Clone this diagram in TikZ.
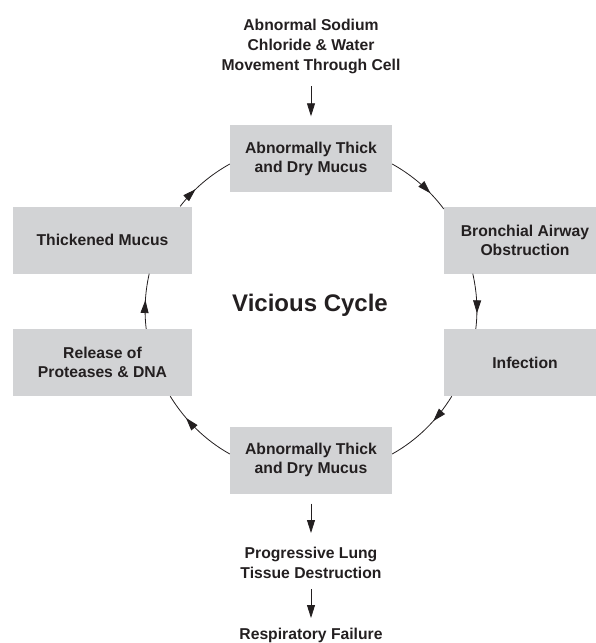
\documentclass[tikz,border=0pt]{standalone}
\usepackage{fontspec}
\setmainfont{Liberation Sans}
\usetikzlibrary{arrows.meta,decorations.markings}
\definecolor{boxgray}{HTML}{D2D3D5}
\definecolor{inkgray}{HTML}{231F20}
\tikzset{
  stage/.style={fill=boxgray, minimum width=162pt, minimum height=67pt,
    inner sep=0pt, align=center, text=inkgray,
    font=\bfseries\fontsize{15.7}{19}\selectfont},
  steptext/.style={inner sep=0pt, align=center, text=inkgray,
    font=\bfseries\fontsize{15.7}{20}\selectfont},
  flow/.style={draw=inkgray, line width=0.8pt,
    -{Triangle[length=13pt,width=8pt]}},
  cycarrow/.style={draw=inkgray, line width=0.8pt, looseness=0.87,
    postaction={decorate},
    decoration={markings,
      mark=at position #1 with {\arrow{Triangle[length=13pt,width=8pt]}}}}
}
\begin{document}
\begin{tikzpicture}[x=1pt,y=1pt]
  \useasboundingbox (0,0) rectangle (596,-643);
% Cause
  \node[steptext, anchor=north] (src) at (311,-19)
    {Abnormal Sodium\\Chloride \& Water\\Movement Through Cell};
% Cycle boxes
  \node[stage] (top) at (311,-158.5) {Abnormally Thick\\and Dry Mucus};
  \node[stage] (bronch) at (525,-240) {Bronchial Airway\\Obstruction};
  \node[stage] (infect) at (525,-362.5) {Infection};
  \node[stage] (bottom) at (311,-460) {Abnormally Thick\\and Dry Mucus};
  \node[stage, minimum width=179pt] (release) at (102.5,-362.5)
    {Release of\\Proteases \& DNA};
  \node[stage, minimum width=179pt] (thick) at (102.5,-240) {Thickened Mucus};
  \node[text=inkgray, inner sep=0pt, font=\bfseries\fontsize{24}{28}\selectfont]
    (vc) at (310,-305) {Vicious Cycle};
% Outcome
  \node[steptext, anchor=north] (prog) at (311,-547)
    {Progressive Lung\\Tissue Destruction};
  \node[steptext, anchor=north] (resp) at (311,-628) {Respiratory Failure};
% Straight arrows
  \draw[flow, shorten <=12pt, shorten >=8.5pt] (src) -- (top);
  \draw[flow, shorten <=10pt, shorten >=14pt] (bottom) -- (prog);
  \draw[flow, shorten <=10.5pt, shorten >=10pt] (prog) -- (resp);
% Cycle arcs
  \draw[cycarrow=0.70] ([yshift=-5.5pt]top.east) to[out=-29.2, in=126.7]
    ([yshift=-2.7pt]bronch.north west);
  \draw[cycarrow=0.72] ([xshift=29pt]bronch.south west) to[out=-77.5, in=83.1]
    ([xshift=32pt]infect.north west);
  \draw[cycarrow=0.37] ([xshift=8pt]infect.south west) to[out=-121.6, in=29.2]
    ([yshift=6pt]bottom.east);
  \draw[cycarrow=0.68] ([yshift=6pt]bottom.west) to[out=150.8, in=301.7]
    ([xshift=-22pt]release.south east);
  \draw[cycarrow=0.52] ([xshift=-46pt]release.north east) to[out=96.9, in=257.5]
    ([xshift=-43pt]thick.south east);
  \draw[cycarrow=0.35] ([xshift=-12pt]thick.north east) to[out=52.1, in=209.2]
    ([yshift=-5.5pt]top.west);
\end{tikzpicture}
\end{document}
